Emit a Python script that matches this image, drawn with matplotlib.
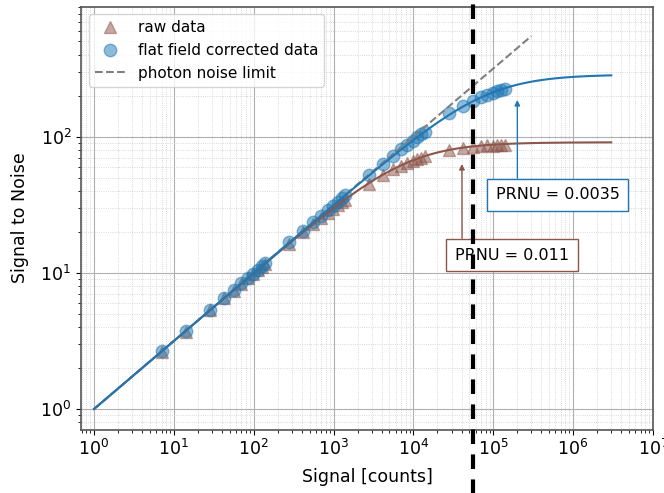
import matplotlib
matplotlib.use("Agg")
import matplotlib.pyplot as plt
import numpy as np

# measured signal levels (counts)
signal = [7, 14, 28, 42, 56, 70, 84, 98, 112, 126, 140,
          280, 420, 560, 700, 840, 980, 1120, 1260, 1400,
          2800, 4200, 5600, 7000, 8400, 9800, 11200, 12600, 14000,
          28000, 42000, 56000, 70000, 84000, 98000, 112000, 126000, 140000]

# signal to noise
snr_raw = [2.6, 3.7, 5.3, 6.5, 7.4, 8.3, 9.1, 9.8, 10.5, 11.1, 11.7,
           16.4, 19.9, 22.8, 25.3, 27.5, 29.5, 31.3, 33.0, 34.5,
           45.0, 52.0, 57.5, 61.0, 64.0, 66.5, 68.5, 70.0, 71.5,
           80.0, 82.5, 84.0, 85.0, 86.5, 86.0, 87.0, 87.5, 87.0]
snr_flat = [2.65, 3.74, 5.29, 6.48, 7.48, 8.36, 9.15, 9.88, 10.55, 11.2, 11.8,
            16.7, 20.4, 23.6, 26.3, 28.8, 31.1, 33.2, 35.2, 37.1,
            52.5, 63.5, 72.0, 80.5, 87.0, 93.5, 99.0, 104.5, 109.0,
            150.0, 168.0, 183.0, 194.0, 203.0, 210.0, 216.0, 221.0, 225.0]

prnu_raw = 0.011
prnu_flat = 0.0035

# photon noise limit endpoints
photon_x = [1, 3e5]
photon_y = [1, 548]

full_well = 5.6e4

# PRNU noise model: SNR = S / sqrt(S + (PRNU*S)^2)
s_model = np.logspace(0, np.log10(3e6), 300)
model_raw = s_model / np.sqrt(s_model + (prnu_raw * s_model) ** 2)
model_flat = s_model / np.sqrt(s_model + (prnu_flat * s_model) ** 2)

fig = plt.figure(figsize=(6.64, 4.93), dpi=100)
ax = fig.add_axes([0.122, 0.1288, 0.9834 - 0.122, 0.9864 - 0.1288])

ax.plot(signal, snr_raw, '^', color='C5', ms=9, alpha=0.5, label='raw data')
ax.plot(signal, snr_flat, 'o', color='C0', ms=9, alpha=0.5,
        label='flat field corrected data')
ax.plot(photon_x, photon_y, '--', color='gray', lw=1.5,
        label='photon noise limit')
ax.plot(s_model, model_raw, color='C5', lw=1.5)
ax.plot(s_model, model_flat, color='C0', lw=1.5)

ax.axvline(full_well, ymin=-0.2, ymax=1.05, color='black', lw=3,
           dashes=(3.5, 2.5), clip_on=False, zorder=5)

ax.set_xscale('log')
ax.set_yscale('log')
ax.set_xlim(0.687, 1e7)
ax.set_ylim(0.707, 900)

ax.grid(True, which='major', color='#b0b0b0', lw=0.8)
ax.grid(True, which='minor', color='#cccccc', lw=0.6, ls=':')
ax.set_axisbelow(True)
for sp in ax.spines.values():
    sp.set_color('#555555')
    sp.set_linewidth(1.2)
ax.tick_params(labelsize=12.5)

ax.set_xlabel('Signal [counts]', fontsize=12.5, labelpad=6)
ax.set_ylabel('Signal to Noise', fontsize=12.5, labelpad=8)

ax.annotate('PRNU = 0.0035', xy=(2e5, 195), xytext=(6.4e5, 37.3),
            fontsize=11.5, ha='center', va='center',
            bbox=dict(boxstyle='square,pad=0.55', fc='white', ec='C0', lw=1),
            arrowprops=dict(arrowstyle='-|>', color='C0', lw=1, shrinkA=0,
                            relpos=(0.175, 1.0), mutation_scale=8))
ax.annotate('PRNU = 0.011', xy=(4.05e4, 66), xytext=(1.7e5, 13.5),
            fontsize=11.5, ha='center', va='center',
            bbox=dict(boxstyle='square,pad=0.55', fc='white', ec='C5', lw=1),
            arrowprops=dict(arrowstyle='-|>', color='C5', lw=1, shrinkA=0,
                            relpos=(0.065, 1.0), mutation_scale=8))

ax.legend(loc='upper left', fontsize=11)

fig.savefig('out.png', dpi=100)
